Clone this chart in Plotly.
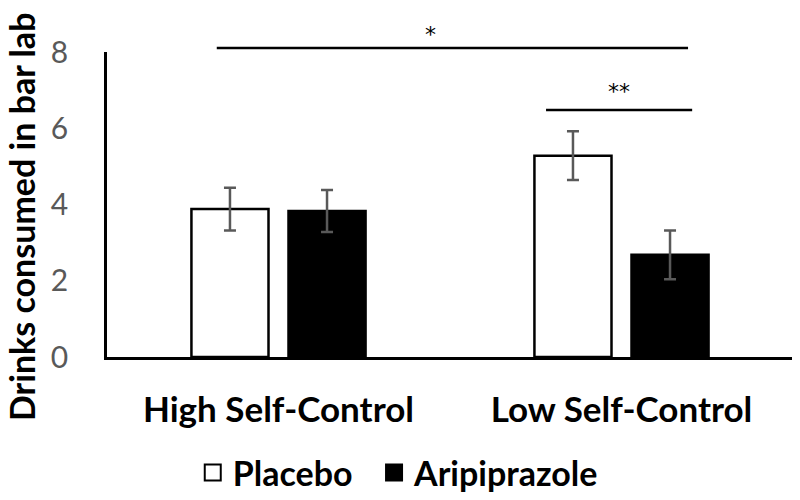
import plotly.graph_objects as go

categories = ["High Self-Control", "Low Self-Control"]
placebo = [3.88, 5.28]
placebo_err = [0.56, 0.64]
aripiprazole = [3.83, 2.68]
aripiprazole_err = [0.55, 0.64]
y_ticks = [0, 2, 4, 6, 8]

FONT = "Lato"

fig = go.Figure()
fig.add_trace(go.Bar(
    name="Placebo", x=categories, y=placebo,
    marker=dict(color="white", line=dict(color="black", width=2.5)),
    error_y=dict(type="data", array=placebo_err, color="#595959", thickness=2.5, width=6),
    showlegend=False,
))
fig.add_trace(go.Bar(
    name="Aripiprazole", x=categories, y=aripiprazole,
    marker=dict(color="black", line=dict(color="black", width=2.5)),
    error_y=dict(type="data", array=aripiprazole_err, color="#595959", thickness=2.5, width=6),
    showlegend=False,
))
# legend entries
fig.add_trace(go.Scatter(
    name="Placebo" + "\u00a0" * 2, x=[None], y=[None], mode="markers",
    marker=dict(symbol="square", size=16, color="white", line=dict(color="black", width=2)),
))
fig.add_trace(go.Scatter(
    name="Aripiprazole", x=[None], y=[None], mode="markers",
    marker=dict(symbol="square", size=16, color="black", line=dict(color="black", width=2)),
))

# significance brackets
fig.add_shape(type="line", xref="paper", yref="paper", x0=0.160, x1=0.847, y0=1.013, y1=1.013,
              line=dict(color="black", width=2.5))
fig.add_shape(type="line", xref="paper", yref="paper", x0=0.640, x1=0.853, y0=0.810, y1=0.810,
              line=dict(color="black", width=2.5))
fig.add_annotation(text="*", xref="paper", yref="paper", x=0.472, y=1.059, showarrow=False,
                   xanchor="center", yanchor="middle",
                   font=dict(family="DejaVu Sans", size=22, color="black"))
fig.add_annotation(text="**", xref="paper", yref="paper", x=0.746, y=0.869, showarrow=False,
                   xanchor="center", yanchor="middle",
                   font=dict(family="DejaVu Sans", size=22, color="black"))

# y-axis title
fig.add_annotation(text="<b>Drinks consumed in bar lab</b>", xref="paper", yref="paper",
                   x=-0.125, y=0.46, textangle=-90, showarrow=False,
                   xanchor="center", yanchor="middle",
                   font=dict(family=FONT, size=34, color="black"))

fig.update_layout(
    template="none",
    width=800, height=500,
    margin=dict(l=99, r=15, t=44, b=151, autoexpand=False),
    paper_bgcolor="white", plot_bgcolor="white",
    barmode="group", bargap=0.434, bargroupgap=0.206,
    font=dict(family=FONT),
    legend=dict(orientation="h", x=0.125, xanchor="left", y=-0.380, yanchor="middle",
                font=dict(family=FONT, size=34, color="black", weight="bold"),
                itemsizing="trace", traceorder="normal"),
    xaxis=dict(range=[-0.5, 1.5], showline=True, linecolor="black", linewidth=2.5,
               showgrid=False, zeroline=False, ticks="", automargin=False,
               tickfont=dict(family=FONT, size=35, color="black", weight="bold"),
               ticklabelstandoff=20),
    yaxis=dict(range=[0, 8], tickvals=y_ticks, showline=True, linecolor="black", linewidth=2.5,
               showgrid=False, zeroline=False, ticks="", automargin=False,
               tickfont=dict(family=FONT, size=30, color="#595959"),
               ticklabelstandoff=30),
)

fig.write_html("out.html")
